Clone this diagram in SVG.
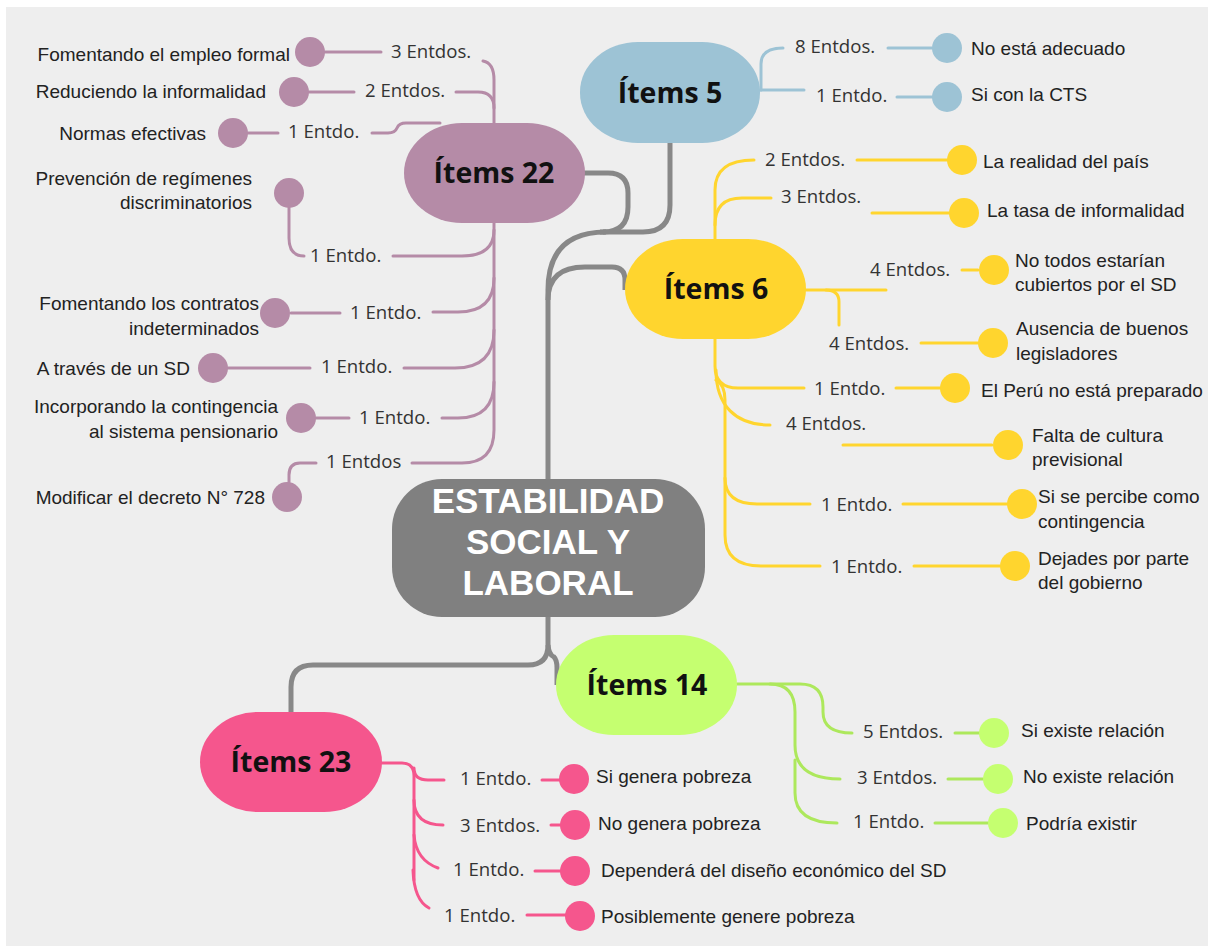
<svg xmlns="http://www.w3.org/2000/svg" width="1214" height="946" viewBox="0 0 1214 946">
<style>
.bg{fill:#eeeeee}
.c{fill:none;stroke-width:3;stroke-linecap:round}
.g{fill:none;stroke:#888888;stroke-width:5;stroke-linecap:butt}
.mv{stroke:#B58BA7}.bl{stroke:#9DC3D5}.ye{stroke:#FFD52E}.gr{stroke:#ADE85C}.pk{stroke:#F5568D}
.lab{font-family:"Open Sans","Noto Sans",sans-serif;font-size:18.6px;fill:#333}
.leaf{font-family:"Liberation Sans",Arial,sans-serif;font-size:19px;fill:#222}
.hub{font-family:"Open Sans","Noto Sans",sans-serif;font-size:28.5px;font-weight:700;fill:#111;text-anchor:middle}
.root{font-family:"Liberation Sans",Arial,sans-serif;font-size:35px;font-weight:700;fill:#ffffff;text-anchor:middle}
.end{text-anchor:end}
</style>
<rect x="0" y="0" width="1214" height="946" fill="#ffffff"/>
<rect class="bg" x="6" y="7" width="1202" height="939"/>
<g id="connectors">
<path class="g" d="M584,173 H608 Q628,173 628,193 V207 Q628,232 603,232"/>
<path class="g" d="M670,143 V205 Q670,232 643,232 H600"/>
<path class="g" d="M548,479 V290 Q548,232 606,232"/>
<path class="g" d="M548,300 Q548,267 585,267 H612 Q625,267 625,280 V290"/>
<path class="g" d="M548,617 V645 Q548,665 528,665 H313 Q291,665 291,687 V712"/>
<path class="g" d="M548,645 Q549,655 554,657 Q557,660 557,668 V685"/>
<path class="c mv" d="M483,61 Q494,63 494,80 V430 Q494,463 462,463 H412"/>
<path class="c mv" d="M456,92 H478 Q494,92 494,108"/>
<path class="c mv" d="M372,133 H388 Q395,133 397,128 Q399,123 406,123 H440"/>
<path class="c mv" d="M393,256 H462 Q494,256 494,230"/>
<path class="c mv" d="M433,312 H458 Q494,312 494,278"/>
<path class="c mv" d="M404,368 H455 Q494,368 494,330"/>
<path class="c mv" d="M442,418 H458 Q494,418 494,382"/>
<path class="c mv" d="M325,52 H381 M309,92 H354 M248,133 H278 M291,313 H340 M228,368 H310 M316,418 H349"/>
<path class="c mv" d="M289,208 V238 Q289,256 304,256"/>
<path class="c mv" d="M316,463 H300 Q289,463 289,475 V482"/>
<path class="c bl" d="M760,90 H804"/>
<path class="c bl" d="M761,90 V64 Q761,48 783,48"/>
<path class="c bl" d="M888,48 H932 M897,97 H933"/>
<path class="c ye" d="M715,240 V190 Q715,160 754,160"/>
<path class="c ye" d="M715,225 Q715,198 742,198 H771"/>
<path class="c ye" d="M857,160 H948 M872,213 H950"/>
<path class="c ye" d="M806,290 H886"/>
<path class="c ye" d="M826,290 Q839,290 839,302 V325"/>
<path class="c ye" d="M962,270 H978 M921,343 H978"/>
<path class="c ye" d="M715,338 V366 Q715,388 738,388 H804"/>
<path class="c ye" d="M716,370 C716,405 735,425 770,425"/>
<path class="c ye" d="M716,380 Q725,385 725,400 V478 Q725,504 757,504 H810"/>
<path class="c ye" d="M725,478 V535 Q725,566 761,566 H820"/>
<path class="c ye" d="M896,388 H941 M843,445 H992 M903,504 H1008 M914,566 H1000"/>
<path class="c pk" d="M382,763 H402 Q414,763 414,776 V880"/>
<path class="c pk" d="M414,768 Q414,780 428,780 H444"/>
<path class="c pk" d="M414,800 Q414,825 443,825"/>
<path class="c pk" d="M414,835 Q416,860 438,868"/>
<path class="c pk" d="M413,870 Q414,900 429,908"/>
<path class="c pk" d="M542,780 H560 M551,825 H562 M535,871 H562 M527,915 H568"/>
<path class="c gr" d="M737,684 H800 Q823,684 823,707 V712 Q823,733 852,733"/>
<path class="c gr" d="M770,684 Q795,684 795,712 V745 Q795,779 840,779"/>
<path class="c gr" d="M795,760 V793 Q795,823 837,823"/>
<path class="c gr" d="M955,733 H980 M948,779 H983 M935,823 H988"/>
<g id="edge-labels">
<text class="lab" x="391" y="58">3 Entdos.</text>
<text class="lab" x="365" y="97">2 Entdos.</text>
<text class="lab" x="288" y="138">1 Entdo.</text>
<text class="lab" x="310" y="262">1 Entdo.</text>
<text class="lab" x="350" y="319">1 Entdo.</text>
<text class="lab" x="321" y="373">1 Entdo.</text>
<text class="lab" x="359" y="424">1 Entdo.</text>
<text class="lab" x="326" y="468">1 Entdos</text>
<text class="lab" x="795" y="53">8 Entdos.</text>
<text class="lab" x="816" y="102">1 Entdo.</text>
<text class="lab" x="765" y="166">2 Entdos.</text>
<text class="lab" x="781" y="203">3 Entdos.</text>
<text class="lab" x="870" y="276">4 Entdos.</text>
<text class="lab" x="829" y="350">4 Entdos.</text>
<text class="lab" x="814" y="395">1 Entdo.</text>
<text class="lab" x="786" y="430">4 Entdos.</text>
<text class="lab" x="821" y="511">1 Entdo.</text>
<text class="lab" x="831" y="573">1 Entdo.</text>
<text class="lab" x="460" y="785">1 Entdo.</text>
<text class="lab" x="460" y="832">3 Entdos.</text>
<text class="lab" x="453" y="876">1 Entdo.</text>
<text class="lab" x="444" y="922">1 Entdo.</text>
<text class="lab" x="863" y="738">5 Entdos.</text>
<text class="lab" x="857" y="784">3 Entdos.</text>
<text class="lab" x="853" y="828">1 Entdo.</text>
</g>
</g>
<g id="root">
<rect x="392" y="479" width="313" height="138" rx="50" fill="#808080"/>
<text class="root" x="548" y="513">ESTABILIDAD</text>
<text class="root" x="548" y="554">SOCIAL Y</text>
<text class="root" x="548" y="595">LABORAL</text>
</g>
<g id="items5"><rect x="580" y="42" width="180" height="101" rx="58" ry="50" fill="#9DC3D5"/><text class="hub" x="670" y="103">Ítems 5</text></g>
<g id="items22"><rect x="404" y="123" width="181" height="100" rx="58" ry="50" fill="#B58BA7"/><text class="hub" x="494" y="183">Ítems 22</text></g>
<g id="items6"><rect x="625" y="239" width="181" height="100" rx="58" ry="50" fill="#FFD52E"/><text class="hub" x="716" y="299">Ítems 6</text></g>
<g id="items14"><rect x="556" y="635" width="181" height="100" rx="58" ry="50" fill="#C5FF70"/><text class="hub" x="647" y="695">Ítems 14</text></g>
<g id="items23"><rect x="200" y="712" width="182" height="100" rx="58" ry="50" fill="#F5568D"/><text class="hub" x="291" y="772">Ítems 23</text></g>
<g id="leaf-22-1"><circle cx="310" cy="52" r="15" fill="#B58BA7"/><text class="leaf end" x="290" y="61">Fomentando el empleo formal</text></g>
<g id="leaf-22-2"><circle cx="294" cy="92" r="15" fill="#B58BA7"/><text class="leaf end" x="266" y="98">Reduciendo la informalidad</text></g>
<g id="leaf-22-3"><circle cx="233" cy="133" r="15" fill="#B58BA7"/><text class="leaf end" x="206" y="140">Normas efectivas</text></g>
<g id="leaf-22-4"><circle cx="289" cy="193" r="15" fill="#B58BA7"/><text class="leaf end" x="252" y="185">Prevención de regímenes</text><text class="leaf end" x="252" y="209">discriminatorios</text></g>
<g id="leaf-22-5"><circle cx="275" cy="313" r="15" fill="#B58BA7"/><text class="leaf end" x="259" y="310">Fomentando los contratos</text><text class="leaf end" x="259" y="335">indeterminados</text></g>
<g id="leaf-22-6"><circle cx="213" cy="368" r="15" fill="#B58BA7"/><text class="leaf end" x="190" y="375">A través de un SD</text></g>
<g id="leaf-22-7"><circle cx="301" cy="418" r="15" fill="#B58BA7"/><text class="leaf end" x="278" y="413">Incorporando la contingencia</text><text class="leaf end" x="278" y="438">al sistema pensionario</text></g>
<g id="leaf-22-8"><circle cx="287" cy="497" r="15" fill="#B58BA7"/><text class="leaf end" x="265" y="504">Modificar el decreto N° 728</text></g>
<g id="leaf-5-1"><circle cx="947" cy="48" r="15" fill="#9DC3D5"/><text class="leaf" x="971" y="55">No está adecuado</text></g>
<g id="leaf-5-2"><circle cx="947" cy="97" r="15" fill="#9DC3D5"/><text class="leaf" x="971" y="101">Si con la CTS</text></g>
<g id="leaf-6-1"><circle cx="962" cy="160" r="15" fill="#FFD52E"/><text class="leaf" x="983" y="168">La realidad del país</text></g>
<g id="leaf-6-2"><circle cx="964" cy="213" r="15" fill="#FFD52E"/><text class="leaf" x="987" y="217">La tasa de informalidad</text></g>
<g id="leaf-6-3"><circle cx="994" cy="270" r="15" fill="#FFD52E"/><text class="leaf" x="1015" y="267">No todos estarían</text><text class="leaf" x="1015" y="291">cubiertos por el SD</text></g>
<g id="leaf-6-4"><circle cx="993" cy="343" r="15" fill="#FFD52E"/><text class="leaf" x="1016" y="335">Ausencia de buenos</text><text class="leaf" x="1016" y="360">legisladores</text></g>
<g id="leaf-6-5"><circle cx="955" cy="388" r="15" fill="#FFD52E"/><text class="leaf" x="981" y="397">El Perú no está preparado</text></g>
<g id="leaf-6-6"><circle cx="1008" cy="445" r="15" fill="#FFD52E"/><text class="leaf" x="1032" y="442">Falta de cultura</text><text class="leaf" x="1032" y="466">previsional</text></g>
<g id="leaf-6-7"><circle cx="1022" cy="504" r="15" fill="#FFD52E"/><text class="leaf" x="1038" y="503">Si se percibe como</text><text class="leaf" x="1038" y="528">contingencia</text></g>
<g id="leaf-6-8"><circle cx="1015" cy="566" r="15" fill="#FFD52E"/><text class="leaf" x="1038" y="565">Dejades por parte</text><text class="leaf" x="1038" y="589">del gobierno</text></g>
<g id="leaf-14-1"><circle cx="994" cy="733" r="15" fill="#C5FF70"/><text class="leaf" x="1021" y="737">Si existe relación</text></g>
<g id="leaf-14-2"><circle cx="998" cy="779" r="15" fill="#C5FF70"/><text class="leaf" x="1023" y="783">No existe relación</text></g>
<g id="leaf-14-3"><circle cx="1003" cy="823" r="15" fill="#C5FF70"/><text class="leaf" x="1026" y="830">Podría existir</text></g>
<g id="leaf-23-1"><circle cx="574" cy="779" r="15" fill="#F5568D"/><text class="leaf" x="596" y="783">Si genera pobreza</text></g>
<g id="leaf-23-2"><circle cx="575" cy="825" r="15" fill="#F5568D"/><text class="leaf" x="598" y="830">No genera pobreza</text></g>
<g id="leaf-23-3"><circle cx="575" cy="871" r="15" fill="#F5568D"/><text class="leaf" x="601" y="877">Dependerá del diseño económico del SD</text></g>
<g id="leaf-23-4"><circle cx="580" cy="916" r="15" fill="#F5568D"/><text class="leaf" x="601" y="923">Posiblemente genere pobreza</text></g>
</svg>
